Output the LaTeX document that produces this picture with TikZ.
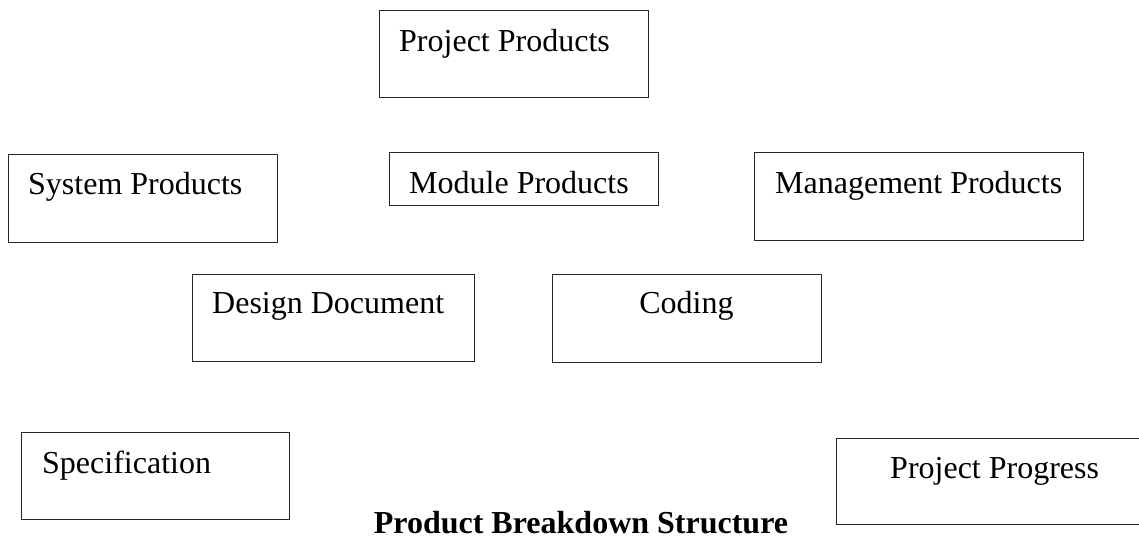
\documentclass[tikz,border=0pt]{standalone}
\usepackage{fontspec}
\setmainfont{Liberation Serif}
\begin{document}
\begin{tikzpicture}[x=1pt,y=-1pt,
  box/.style={draw=black!85,line width=1pt,rectangle,inner sep=0pt},
  lbl/.style={inner sep=0pt,font=\fontsize{32}{38}\selectfont},
  ttl/.style={inner sep=0pt,font=\fontsize{32}{38}\selectfont\bfseries}]
\useasboundingbox (0,0) rectangle (1139,539);
\clip (0,0) rectangle (1139,539);
% boxes
\node[box,minimum width=269pt,minimum height=87pt] (pp) at (513.5,53.5) {};
\node[box,minimum width=269pt,minimum height=88pt] (sp) at (142.5,198) {};
\node[box,minimum width=269pt,minimum height=53pt] (mp) at (523.5,178.5) {};
\node[box,minimum width=329pt,minimum height=88pt] (mg) at (918.5,196) {};
\node[box,minimum width=282pt,minimum height=87pt] (dd) at (333,317.5) {};
\node[box,minimum width=269pt,minimum height=88pt] (cd) at (686.5,318) {};
\node[box,minimum width=268pt,minimum height=87pt] (sf) at (155,475.5) {};
\node[box,minimum width=309pt,minimum height=86pt] (pg) at (990.5,481) {};
% labels
\node[lbl,anchor=base west] (ppt) at (399,51) {Project Products};
\node[lbl,anchor=base west] (spt) at (28,194) {System Products};
\node[lbl,anchor=base west] (mpt) at (409,193) {Module Products};
\node[lbl,anchor=base west] (mgt) at (775,193) {Management Products};
\node[lbl,anchor=base west] (ddt) at (212,313) {Design Document};
\node[lbl,anchor=base] (cdt) at (686.5,313) {Coding};
\node[lbl,anchor=base west] (sft) at (42,473) {Specification};
\node[lbl,anchor=base west] (pgt) at (890,478) {Project Progress};
% caption
\node[ttl,anchor=base] (title) at (581,533) {Product Breakdown Structure};
\end{tikzpicture}
\end{document}
